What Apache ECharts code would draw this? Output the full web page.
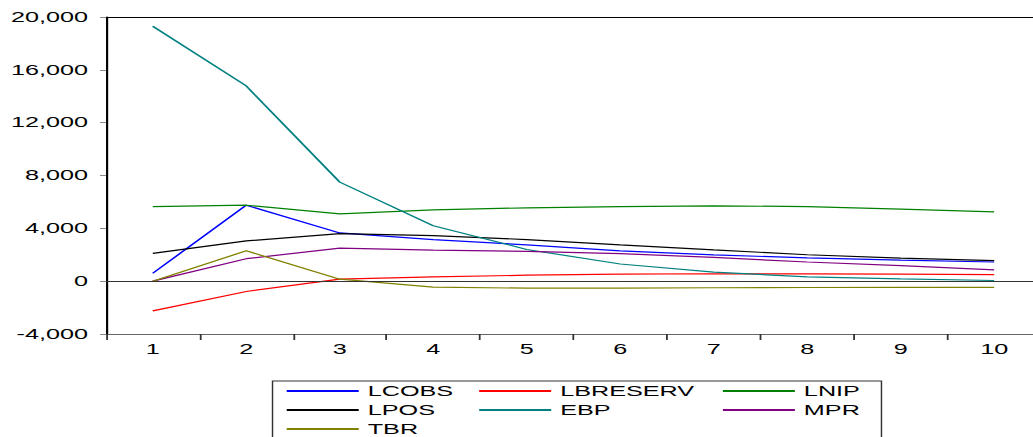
<!DOCTYPE html>
<html>
<head>
<meta charset="utf-8">
<script src="https://cdn.jsdelivr.net/npm/echarts@6/dist/echarts.min.js"></script>
<style>
  html, body { margin: 0; padding: 0; overflow: hidden; background: #fff; }
  /* the reference text and strokes are stretched horizontally, so draw narrow and widen */
  #chart { width: 574px; height: 437px; transform: scaleX(1.8); transform-origin: 0 0; }
</style>
</head>
<body>
<div id="chart"></div>
<script>
const periods = ['1', '2', '3', '4', '5', '6', '7', '8', '9', '10'];

const lcobs    = [600, 5750, 3650, 3150, 2750, 2300, 1990, 1760, 1590, 1450];
const lbreserv = [-2250, -780, 150, 330, 450, 530, 560, 550, 530, 500];
const lnip     = [5650, 5750, 5100, 5400, 5550, 5650, 5700, 5650, 5450, 5250];
const lpos     = [2100, 3050, 3600, 3450, 3150, 2750, 2370, 2000, 1740, 1550];
const ebp      = [19300, 14780, 7500, 4200, 2400, 1300, 680, 330, 170, 50];
const mpr      = [0, 1700, 2500, 2350, 2250, 2080, 1800, 1450, 1180, 850];
const tbr      = [0, 2300, 150, -450, -530, -520, -500, -480, -470, -470];

const seriesNames  = ['LCOBS', 'LBRESERV', 'LNIP', 'LPOS', 'EBP', 'MPR', 'TBR'];
const seriesValues = [lcobs, lbreserv, lnip, lpos, ebp, mpr, tbr];
const seriesColors = ['#0000ff', '#ff0000', '#008000', '#000000', '#008080', '#800080', '#808000'];

const legendCols = [
    ['LCOBS', 'LPOS', 'TBR'],
    ['LBRESERV', 'EBP'],
    ['LNIP', 'MPR'],
];
const legendLeft = [158.3, 265.2, 400.6];

const font = "'Liberation Sans', Arial, sans-serif";

const chartDom = document.getElementById('chart');
const myChart = echarts.init(chartDom, null, { renderer: 'svg' });

const option = {
    animation: false,
    textStyle: { fontFamily: font },
    grid: {
        left: 58.9,
        top: 17,
        width: 519.4,
        height: 317,
        containLabel: false,
        outerBoundsMode: 'none',
    },
    xAxis: [
        {
            type: 'category',
            data: periods,
            boundaryGap: true,
            axisLine: { onZero: false, lineStyle: { color: '#666', width: 1 } },
            axisTick: { show: true, length: 6, lineStyle: { color: '#333' } },
            axisLabel: { color: '#000', fontSize: 14, margin: 8, fontFamily: font },
            splitLine: { show: false },
        },
        {
            // top frame line
            type: 'category',
            data: periods,
            position: 'top',
            axisLine: { onZero: false, lineStyle: { color: '#000', width: 1.2 } },
            axisTick: { show: false },
            axisLabel: { show: false },
            splitLine: { show: false },
        },
    ],
    yAxis: {
        type: 'value',
        min: -4000,
        max: 20000,
        interval: 4000,
        axisLine: { show: true, onZero: false, lineStyle: { color: '#000', width: 1.2 } },
        axisTick: { show: true, length: 3.3, lineStyle: { color: '#888' } },
        axisLabel: { color: '#000', fontSize: 14, margin: 10, fontFamily: font },
        splitLine: { show: false },
    },
    legend: legendCols.map((names, i) => ({
        data: names,
        orient: 'vertical',
        left: legendLeft[i],
        top: 384,
        padding: 0,
        itemWidth: 40,
        itemHeight: 12,
        itemGap: 5,
        selectedMode: false,
        itemStyle: { opacity: 0 },
        textStyle: { color: '#000', fontSize: 14, fontFamily: font },
    })),
    graphic: [
        {
            type: 'rect',
            left: 148.9,
            top: 378.5,
            shape: { width: 338.3, height: 80 },
            style: { fill: 'none', stroke: '#333', lineWidth: 0.8 },
            silent: true,
        },
    ],
    series: seriesNames.map((name, i) => ({
        name: name,
        type: 'line',
        data: seriesValues[i],
        symbol: 'none',
        color: seriesColors[i],
        lineStyle: { color: seriesColors[i], width: 1.2 },
        markLine: i === 0 ? {
            silent: true,
            symbol: 'none',
            label: { show: false },
            lineStyle: { color: '#333', width: 1, type: 'solid' },
            data: [{ yAxis: 0 }],
        } : undefined,
    })),
};

myChart.setOption(option);
</script>
</body>
</html>
